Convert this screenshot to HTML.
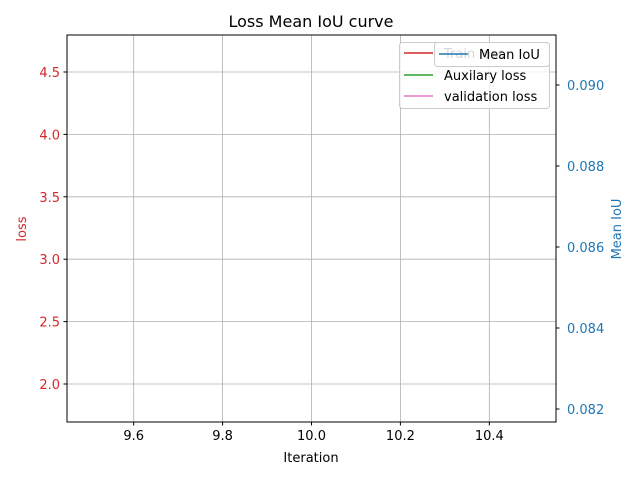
<!DOCTYPE html>
<html><head><meta charset="utf-8"><style>
body{margin:0;background:#fff;font-family:"Liberation Sans","DejaVu Sans",sans-serif}
</style></head><body>
<svg id="chart" width="640" height="480" xmlns="http://www.w3.org/2000/svg" font-family="DejaVu Sans, Liberation Sans, sans-serif">
<rect width="640" height="480" fill="#fff"/>
<text x="311" y="27" text-anchor="middle" font-size="16">Loss Mean IoU curve</text>
<g id="grid"></g><g id="marks"></g><g id="axes"></g>
<rect x="67" y="35" width="489" height="387" fill="none" stroke="#000" stroke-width="1"/>
<text x="311" y="462" text-anchor="middle" font-size="13">Iteration</text>
<text transform="translate(26,229) rotate(-90)" text-anchor="middle" font-size="13" fill="#d62728">loss</text>
<text transform="translate(621,229) rotate(-90)" text-anchor="middle" font-size="13" fill="#1f77b4">Mean IoU</text>
<g>
<rect x="399.5" y="42.5" width="150" height="66" rx="3" fill="#fff" fill-opacity="0.8" stroke="#ccc"/>
<line x1="404" y1="53" x2="433" y2="53" stroke="#d62728" stroke-width="1.5"/>
<text x="444" y="58" font-size="13" fill="#333">Train loss</text>
<line x1="404" y1="75" x2="433" y2="75" stroke="#2ca02c" stroke-width="1.5"/>
<text x="444" y="80" font-size="13">Auxilary loss</text>
<line x1="404" y1="96" x2="433" y2="96" stroke="#e377c2" stroke-width="1.5"/>
<text x="444" y="101" font-size="13">validation loss</text>
</g>
<g>
<rect x="434.5" y="42.5" width="115" height="24" rx="3" fill="#fff" fill-opacity="0.8" stroke="#ccc"/>
<line x1="439" y1="54" x2="468" y2="54" stroke="#1f77b4" stroke-width="1.5"/>
<text x="479" y="59" font-size="13">Mean IoU</text>
</g>
</svg>
<script>
const iterations=[10];
const trainLoss=[3.2];
const auxLoss=[3.2];
const valLoss=[3.2];
const meanIou=[0.0865];
const xTicks=[9.6,9.8,10.0,10.2,10.4];
const yTicks=[2.0,2.5,3.0,3.5,4.0,4.5];
const y2Ticks=[0.082,0.084,0.086,0.088,0.090];
const NS="http://www.w3.org/2000/svg";
const L=67,R=556,T=35,B=422;
const xs=v=>L+(v-9.45)/1.1*(R-L);
const ys=v=>384-(v-2.0)/0.5*62.4;
const y2s=v=>409-(v-0.082)/0.002*81;
function mk(tag,attrs,parent,text){const e=document.createElementNS(NS,tag);for(const k in attrs)e.setAttribute(k,attrs[k]);if(text!==undefined)e.textContent=text;document.getElementById(parent).appendChild(e);return e;}
xTicks.forEach(t=>{const x=xs(t);
const g=mk('line',{x1:x,x2:x,y1:T,y2:B,stroke:'#b0b0b0','stroke-width':0.8},'grid');


mk('line',{x1:x,x2:x,y1:B,y2:B+3.5,stroke:'#000'},'axes');
const lb=mk('text',{x:x,y:B+18,'text-anchor':'middle','font-size':13},'axes',t.toFixed(1));

});
yTicks.forEach(t=>{const y=ys(t);
const g=mk('line',{x1:L,x2:R,y1:y,y2:y,stroke:'#b0b0b0','stroke-width':0.8},'grid');


mk('line',{x1:L-3.5,x2:L,y1:y,y2:y,stroke:'#000'},'axes');
const lb=mk('text',{x:L-7,y:y+5,'text-anchor':'end','font-size':13,fill:'#d62728'},'axes',t.toFixed(1));

});
y2Ticks.forEach(t=>{const y=y2s(t);
mk('line',{x1:R,x2:R+3.5,y1:y,y2:y,stroke:'#000'},'axes');
const lb=mk('text',{x:R+11,y:y+5,'font-size':13,fill:'#1f77b4'},'axes',t.toFixed(3));

});
function series(vals,scale,color,name){const pts=vals.map((v,i)=>xs(iterations[i])+','+scale(v)).join(' ');
const p=mk('polyline',{points:pts,fill:'none',stroke:color,'stroke-width':1.5},'marks');

}
series(trainLoss,ys,'#d62728','train-loss-line');
series(auxLoss,ys,'#2ca02c','aux-loss-line');
series(valLoss,ys,'#e377c2','val-loss-line');
series(meanIou,y2s,'#1f77b4','mean-iou-line');
</script>
</body></html>
